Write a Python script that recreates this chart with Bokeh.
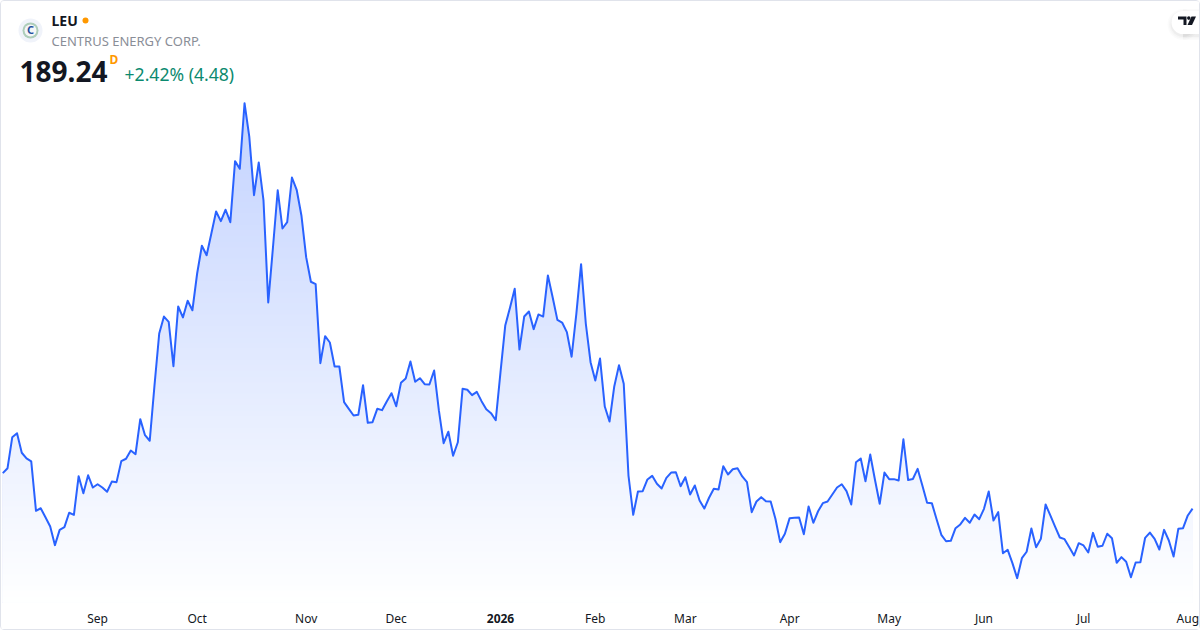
from bokeh.plotting import figure
from bokeh.embed import file_html
from bokeh.resources import INLINE
from bokeh.models import Label, FixedTicker, Range1d, LinearAxis
import numpy as np

symbol = "LEU"
company = "CENTRUS ENERGY CORP."
last_price = "189.24"
change_text = "+2.42% (4.48)"
interval = "D"

prices = [
    212.9, 216.2, 236.9, 239.5, 226.5, 222.7, 220.7, 187.8, 189.5, 183.5, 177.3, 164.9, 175.1, 176.9, 186.5, 185.1,
    210.9, 199.5, 211.5, 203.3, 205.5, 203.3, 200.5, 207.3, 206.9, 220.9, 222.5, 228.0, 225.5, 248.9, 238.2, 234.5,
    271.3, 306.0, 317.3, 313.8, 284.2, 324.0, 316.7, 327.8, 321.5, 346.0, 364.5, 358.2, 372.7, 387.3, 380.9, 388.5,
    380.2, 420.9, 415.8, 459.5, 437.3, 398.2, 420.0, 394.7, 326.7, 363.5, 401.5, 376.0, 380.2, 410.0, 401.8, 384.7,
    356.9, 340.5, 338.9, 286.2, 304.2, 300.0, 284.0, 284.0, 260.2, 255.8, 251.3, 251.8, 271.5, 246.5, 246.9, 255.8,
    254.9, 260.7, 266.2, 257.5, 273.1, 276.0, 287.3, 273.8, 276.2, 272.2, 272.0, 281.3, 254.7, 232.9, 240.5, 224.5,
    233.5, 269.1, 268.5, 264.9, 267.1, 260.9, 255.5, 252.9, 248.2, 280.2, 311.3, 323.1, 335.8, 295.3, 317.3, 320.7,
    308.9, 318.7, 317.3, 344.7, 330.2, 315.1, 313.3, 306.9, 290.5, 319.1, 352.2, 312.5, 286.9, 274.7, 289.3, 257.3,
    247.3, 270.7, 284.9, 272.5, 211.3, 185.1, 200.7, 200.9, 208.7, 211.1, 205.8, 202.7, 209.8, 213.3, 213.5, 204.2,
    210.2, 198.7, 204.7, 194.7, 189.3, 196.5, 202.5, 202.0, 217.5, 212.0, 215.5, 216.2, 210.7, 206.9, 186.9, 194.0,
    196.9, 194.2, 194.0, 182.5, 166.9, 172.5, 182.9, 183.1, 183.3, 172.2, 190.7, 179.8, 187.5, 192.9, 194.0, 198.7,
    203.3, 205.5, 200.9, 192.0, 220.2, 222.7, 207.5, 225.3, 208.5, 192.5, 213.3, 208.9, 208.9, 208.0, 235.5, 208.3,
    209.0, 215.8, 204.7, 193.1, 192.9, 182.2, 171.8, 167.5, 167.8, 176.2, 178.7, 183.1, 179.8, 185.3, 182.2, 189.1,
    200.7, 181.3, 186.9, 159.5, 161.8, 152.9, 142.9, 156.2, 160.5, 176.0, 163.5, 169.1, 192.0, 184.7, 177.3, 170.0,
    168.9, 163.5, 158.0, 166.2, 164.7, 160.0, 173.1, 163.8, 164.5, 172.5, 169.5, 153.1, 156.9, 153.8, 143.5, 153.3,
    153.5, 169.8, 173.3, 169.1, 162.0, 175.1, 168.0, 157.3, 175.8, 176.2, 184.7, 189.24,
]
tick_positions = [20, 41, 64, 83, 105, 125, 144, 166, 187, 207, 228, 250]
tick_labels = ["Sep", "Oct", "Nov", "Dec", "2026", "Feb", "Mar", "Apr", "May", "Jun", "Jul", "Aug"]
bold_ticks = ["2026"]

W, H = 1198, 628   # content box; the CSS border adds 1px on every side
STEP, X0 = 4.74, 2.3


def X(px):
    return (np.asarray(px, dtype=float) - X0) / STEP


def Y(py):
    return (792 - np.asarray(py, dtype=float)) * 2 / 3


x_range = Range1d(float(X(1)), float(X(1 + W)))
y_range = Range1d(float(Y(1 + H)), float(Y(1)))

p = figure(width=W, height=H, frame_width=W, frame_height=H, output_backend="svg", toolbar_location=None,
           x_range=x_range, y_range=y_range, y_axis_location=None, x_axis_location=None,
           min_border_left=0, min_border_right=0, min_border_top=0, min_border_bottom=0,
           background_fill_color="white", border_fill_color="white", outline_line_color=None)
p.grid.visible = False

xs = np.arange(len(prices), dtype=float)
ys = np.array(prices)

# vertical gradient: painted from the darkest (highest) band downward
base = Y(602)
top, bottom = Y(100), Y(602)
levels = np.linspace(top, bottom, 90)
for lv in levels:
    a = 0.28 * (lv - bottom) / (top - bottom)
    col = "#%02x%02x%02x" % tuple(int(round(255 - a * (255 - c))) for c in (41, 98, 255))
    p.varea(xs, y1=np.full_like(xs, base), y2=np.minimum(ys, lv), fill_color=col, fill_alpha=1)

p.line(xs, ys, line_color="#2962ff", line_width=2, line_join="round")


# two axes drawn inside the frame: regular month labels and the bold year label
def month_axis(ticks, labels, style, standoff):
    ax = LinearAxis(ticker=FixedTicker(ticks=ticks), fixed_location=float(Y(605)))
    ax.major_label_overrides = dict(zip(ticks, labels))
    ax.axis_line_color = None
    ax.major_tick_line_color = None
    ax.minor_tick_line_color = None
    ax.major_tick_out = 0
    ax.major_tick_in = 0
    ax.major_label_text_font = "Noto Sans"
    ax.major_label_text_font_size = "12px"
    ax.major_label_text_font_style = style
    ax.major_label_text_color = "#131722"
    ax.major_label_standoff = standoff
    p.add_layout(ax, "below")


month_axis([t for t, l in zip(tick_positions, tick_labels) if l not in bold_ticks],
           [l for l in tick_labels if l not in bold_ticks], "normal", 4)
month_axis([t for t, l in zip(tick_positions, tick_labels) if l in bold_ticks],
           [l for l in tick_labels if l in bold_ticks], "bold", 8)

FONT = "Noto Sans"


def label(x, py, text, size, color, style="normal", align="left"):
    p.add_layout(Label(x=x - 1, y=H - py + 2, x_units="screen", y_units="screen", text=text,
                       text_font=FONT, text_font_size=size, text_color=color, text_font_style=style,
                       text_align=align, text_baseline="middle"))


label(51, 21, symbol, "14px", "#131722", "bold")
label(51, 41, company, "13px", "#8a8e97")
label(19, 72, last_price, "28px", "#131722", "bold")
label(109, 60, interval, "12px", "#ff9800", "bold")
label(124, 74, change_text, "17.6px", "#0b8a6f")

p.scatter(X([85]), Y([20]), size=6, color="#ff9800", line_color=None)
# logo
p.scatter(X([30]), Y([30]), size=24, color="#f0f3fa", line_color=None)
p.scatter(X([30]), Y([30]), size=16, color="#aecdb9", line_color=None)
p.scatter(X([30]), Y([30]), size=12, color="#f4f6f8", line_color=None)
label(30, 30, "C", "11px", "#1f4e9c", "bold", "center")

# TradingView badge
for grow, alpha in [(8, .015), (5, .02), (2, .03)]:
    p.scatter(X([1182.5]), Y([24]), size=23 + grow, color="black", alpha=alpha, line_color=None)
    p.quad(left=X([1182.5]), right=X([1200]), bottom=Y([35.5 + grow / 2]), top=Y([12.5 - grow / 2]), color="black", alpha=alpha, line_color=None)
p.scatter(X([1182.5]), Y([22]), size=23, color="white", line_color=None)
p.quad(left=X([1182.5]), right=X([1200]), bottom=Y([33.5]), top=Y([10.5]), color="white", line_color=None)
p.patch(X([1177.5, 1186, 1186, 1183, 1183, 1180, 1180, 1177.5]), Y([16, 16, 24.5, 24.5, 19, 19, 19, 19]), color="#131722", line_color=None)
p.patch(X([1191, 1195.5, 1191.5, 1187]), Y([16, 16, 24.5, 24.5]), color="#131722", line_color=None)
p.scatter(X([1188.3]), Y([17.6]), size=3.6, color="#131722", line_color=None)

p.styles = {"border": "1px solid #e0e3eb", "border-radius": "4px", "box-sizing": "content-box"}

open("out.html", "w").write(file_html(p, INLINE))
